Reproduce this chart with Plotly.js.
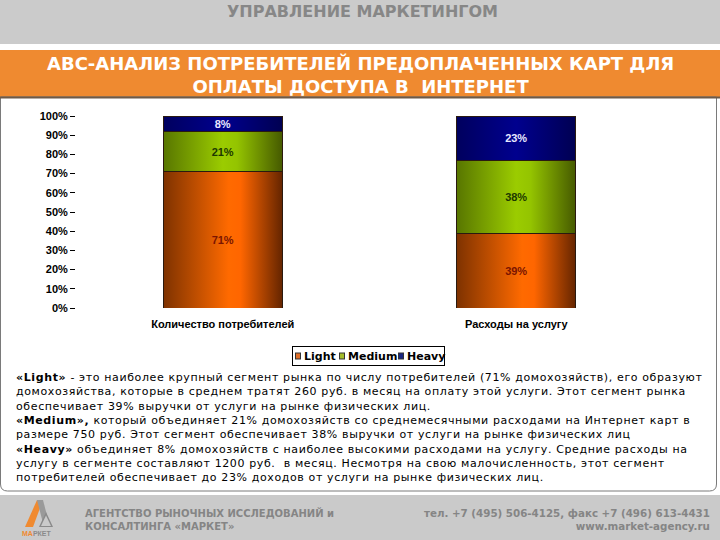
<!DOCTYPE html>
<html>
<head>
<meta charset="utf-8">
<script src="https://cdn.plot.ly/plotly-3.0.1.min.js"></script>
<style>
html,body{margin:0;padding:0;background:#fff;}
#chart{width:720px;height:540px;}
</style>
</head>
<body>
<div id="chart"></div>
<script>
// ---- data ----
const categories = ["Количество потребителей", "Расходы на услугу"];
const seriesNames = ["Light", "Medium", "Heavy"];
const lightValues = [71, 39];
const mediumValues = [21, 38];
const heavyValues = [8, 23];
const yTickValues = [0, 10, 20, 30, 40, 50, 60, 70, 80, 90, 100];
const yTickLabels = ["0%", "10%", "20%", "30%", "40%", "50%", "60%", "70%", "80%", "90%", "100%"];

// ---- geometry helpers (pixel -> paper) ----
const L = 76, R = 663, T = 116, B = 308;
const W = R - L, H = B - T;
const px = X => (X - L) / W;
const py = Y => (B - Y) / H;

const seriesColors = ["#e85a00", "#86b000", "#000078"];
const legendColors = ["#e0702a", "#a4bc2a", "#1a2680"];
const textColors = ["#7a1400", "#1c3800", "#e8e8ff"];
const allValues = [lightValues, mediumValues, heavyValues];

const traces = allValues.map((vals, i) => ({
  type: "bar",
  name: seriesNames[i],
  x: categories,
  y: vals,
  text: vals.map(v => v + "%"),
  width: 0.405,
  marker: {color: seriesColors[i], line: {color: "#2a1a10", width: 1}},
  texttemplate: "<b>%{text}</b>",
  textposition: "inside",
  insidetextanchor: "middle",
  constraintext: "none",
  textfont: {family: "Liberation Sans, Arial, sans-serif", size: 11, color: textColors[i]},
  showlegend: false,
  hoverinfo: "skip"
}));

function rect(x0, y0, x1, y1, fill, line) {
  return {type: "rect", xref: "paper", yref: "paper",
    x0: px(x0), x1: px(x1), y0: py(y0), y1: py(y1),
    fillcolor: fill, line: line || {width: 0}, layer: "below"};
}
function path(points, fill, line) {
  const d = points.map(p => p[0] + (p.length > 1 ? " " + px(p[1]) + "," + py(p[2]) : "")).join(" ");
  return {type: "path", xref: "paper", yref: "paper", path: d,
    fillcolor: fill, line: line || {width: 0}, layer: "below"};
}

const shapes = [
  rect(0, 0, 720, 44, "#cbcbcb"),
  rect(0, 50, 720, 97, "#ef8a30"),
  {type: "path", xref: "paper", yref: "paper",
    path: "M " + px(0.5) + "," + py(97) + " L " + px(716.5) + "," + py(97) +
          " L " + px(716.5) + "," + py(484) + " Q " + px(716.5) + "," + py(491) + " " + px(709.5) + "," + py(491) +
          " L " + px(7.5) + "," + py(491) + " Q " + px(0.5) + "," + py(491) + " " + px(0.5) + "," + py(484) + " Z",
    fillcolor: "#ffffff", line: {color: "#7a7a7a", width: 1}, layer: "below"},
  rect(0, 96.5, 720, 98.5, "#6e5a48"),
  rect(0, 495, 720, 540, "#cacaca"),
  // logo
  path([["M", 25, 527], ["L", 37, 500], ["L", 43, 500], ["L", 33, 527], ["Z"]], "#f08a30"),
  path([["M", 37, 500], ["L", 43, 500], ["L", 50, 527], ["L", 44, 527], ["Z"]], "#9a9a9a"),
  path([["M", 46, 512], ["L", 53, 527], ["L", 39, 527], ["Z"]], "#8a8a8a"),
  path([["M", 46, 515.5], ["L", 51, 526], ["L", 41, 526], ["Z"]], "#cacaca"),
  // legend frame: black box with white inset
  rect(292, 346, 445, 366, "#000000"),
  rect(293, 347, 444, 365, "#ffffff")
];

const F = "Liberation Sans, Arial, sans-serif";
const D = "DejaVu Sans, Verdana, sans-serif";

// legend entries (swatch x, text x)
const legendSwatchX = [295, 339, 398];
const legendTextX = [302, 346, 405];
seriesNames.forEach((n, i) => {
  shapes.push(rect(legendSwatchX[i], 352.5, legendSwatchX[i] + 6, 359.5, "#333333"));
  shapes.push(rect(legendSwatchX[i] + 1, 353.5, legendSwatchX[i] + 5, 358.5, legendColors[i]));
});

const annotations = [
  {text: "<b>УПРАВЛЕНИЕ МАРКЕТИНГОМ</b>", x: px(362), y: py(12), font: {family: D, size: 16, color: "#878787"}},
  {text: "<b>АВС-АНАЛИЗ ПОТРЕБИТЕЛЕЙ ПРЕДОПЛАЧЕННЫХ КАРТ ДЛЯ<br>ОПЛАТЫ ДОСТУПА В  ИНТЕРНЕТ</b>",
    x: px(360), y: py(75), font: {family: D, size: 18, color: "#ffffff"}},
  {text: "<b>«Light»</b> - это наиболее крупный сегмент рынка по числу потребителей (71% домохозяйств), его образуют<br>" +
         "домохозяйства, которые в среднем тратят 260 руб. в месяц на оплату этой услуги. Этот сегмент рынка<br>" +
         "обеспечивает 39% выручки от услуги на рынке физических лиц.<br>" +
         "<b>«Medium»,</b> который объединяет 21% домохозяйств со среднемесячными расходами на Интернет карт в<br>" +
         "размере 750 руб. Этот сегмент обеспечивает 38% выручки от услуги на рынке физических лиц<br>" +
         "<b>«Heavy»</b> объединяет 8% домохозяйств с наиболее высокими расходами на услугу. Средние расходы на<br>" +
         "услугу в сегменте составляют 1200 руб.  в месяц. Несмотря на свою малочисленность, этот сегмент<br>" +
         "потребителей обеспечивает до 23% доходов от услуги на рынке физических лиц.",
    x: px(14), y: py(369), xanchor: "left", yanchor: "top", align: "left",
    font: {family: D, size: 11, color: "#000000"}},
  {text: "<b>АГЕНТСТВО РЫНОЧНЫХ ИССЛЕДОВАНИЙ и<br>КОНСАЛТИНГА «МАРКЕТ»</b>", x: px(83), y: py(519),
    xanchor: "left", align: "left", font: {family: D, size: 10, color: "#858585"}},
  {text: "<b>тел. +7 (495) 506-4125, факс +7 (496) 613-4431<br>www.market-agency.ru</b>", x: px(712), y: py(519),
    xanchor: "right", align: "right", font: {family: D, size: 10.3, color: "#858585"}},
  {text: "<b><span style='color:#f08a30'>МА</span>РКЕТ</b>", x: px(37), y: py(533),
    font: {family: F, size: 7, color: "#8a8a8a"}}
];
seriesNames.forEach((n, i) => {
  annotations.push({text: "<b>" + n + "</b>", x: px(legendTextX[i]), y: py(356), xanchor: "left",
    font: {family: D, size: 11, color: "#000000"}});
});
const annDefaults = {xref: "paper", yref: "paper", showarrow: false, xanchor: "center", yanchor: "middle"};
annotations.forEach(a => Object.keys(annDefaults).forEach(k => { if (a[k] === undefined) a[k] = annDefaults[k]; }));

const layout = {
  width: 720, height: 540,
  margin: {l: L, r: 720 - R, t: T, b: 540 - B, pad: 0},
  paper_bgcolor: "#ffffff", plot_bgcolor: "rgba(0,0,0,0)",
  barmode: "stack",
  showlegend: false,
  xaxis: {type: "category", range: [-0.5, 1.5], showgrid: false, zeroline: false, showline: false,
    ticks: "", ticklabelstandoff: 8,
    tickfont: {family: F, size: 11, color: "#000000", weight: "bold"}, fixedrange: true},
  yaxis: {range: [0, 100], tickmode: "array", tickvals: yTickValues, ticktext: yTickLabels,
    showgrid: false, zeroline: false,
    showline: false, ticks: "outside", ticklen: 5, tickcolor: "#000000", tickwidth: 1,
    tickfont: {family: F, size: 11, color: "#000000", weight: "bold"}, fixedrange: true},
  shapes: shapes,
  annotations: annotations
};

Plotly.newPlot("chart", traces, layout, {displayModeBar: false, staticPlot: true}).then(gd => {
  const NS = "http://www.w3.org/2000/svg";
  const svg = gd.querySelector("svg.main-svg");
  let defs = svg.querySelector("defs");
  if (!defs) { defs = document.createElementNS(NS, "defs"); svg.insertBefore(defs, svg.firstChild); }
  const grads = [
    [["0", "#7e3200"], ["0.55", "#ff6a00"], ["0.65", "#ff6600"], ["1", "#652500"]],
    [["0", "#587600"], ["0.5", "#9bcc00"], ["0.62", "#94c400"], ["1", "#465a00"]],
    [["0", "#00005e"], ["0.5", "#00008e"], ["1", "#000052"]]
  ];
  grads.forEach((stops, i) => {
    const g = document.createElementNS(NS, "linearGradient");
    g.setAttribute("id", "barGrad" + i);
    g.setAttribute("x1", "0"); g.setAttribute("x2", "1");
    g.setAttribute("y1", "0"); g.setAttribute("y2", "0");
    stops.forEach(s => {
      const st = document.createElementNS(NS, "stop");
      st.setAttribute("offset", s[0]); st.setAttribute("stop-color", s[1]);
      g.appendChild(st);
    });
    defs.appendChild(g);
  });
  gd.querySelectorAll(".barlayer .trace").forEach((tr, i) => {
    tr.querySelectorAll(".point path").forEach(p => { p.style.fill = "url(#barGrad" + i + ")"; });
  });
  // widen the paragraph's letter spacing like the original slide
  const anns = gd.querySelectorAll(".annotation-text");
  if (anns[2]) anns[2].style.letterSpacing = "0.62px";
});
</script>
</body>
</html>
